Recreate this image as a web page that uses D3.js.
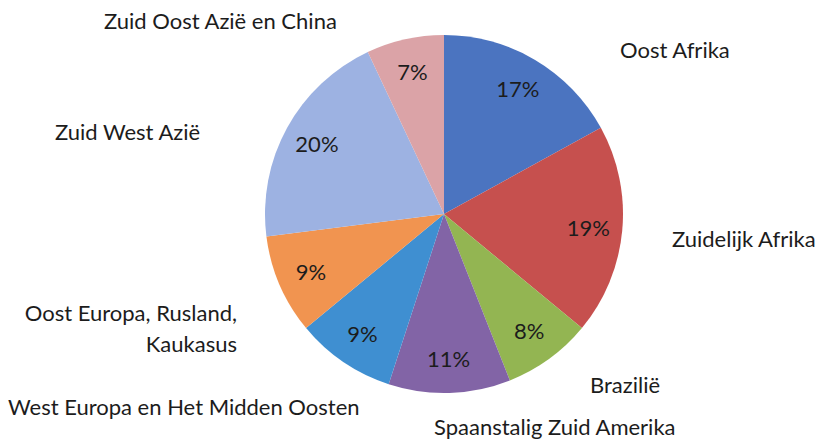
<!DOCTYPE html>
<html>
<head>
<meta charset="utf-8">
<script src="https://cdn.jsdelivr.net/npm/d3@7"></script>
<style>
  html, body { margin: 0; padding: 0; background: #ffffff; }
  svg { display: block; }
  text { font-family: Lato, "Open Sans", sans-serif; fill: #1c1c1c; }
</style>
</head>
<body>
<svg id="chart" width="820" height="442"></svg>
<script>
// ---- data ----
const categories = [
  "Oost Afrika",
  "Zuidelijk Afrika",
  "Brazilië",
  "Spaanstalig Zuid Amerika",
  "West Europa en Het Midden Oosten",
  "Oost Europa, Rusland, Kaukasus",
  "Zuid West Azië",
  "Zuid Oost Azië en China"
];
const values = [17, 19, 8, 11, 9, 9, 20, 7];
const percentLabels = ["17%", "19%", "8%", "11%", "9%", "9%", "20%", "7%"];
const categoryLines = [
  ["Oost Afrika"],
  ["Zuidelijk Afrika"],
  ["Brazilië"],
  ["Spaanstalig Zuid Amerika"],
  ["West Europa en Het Midden Oosten"],
  ["Oost Europa, Rusland,", "Kaukasus"],
  ["Zuid West Azië"],
  ["Zuid Oost Azië en China"]
];
const colors = ["#4b74c0", "#c6504e", "#93b552", "#8264a6", "#3f8fd1", "#f19450", "#9db2e2", "#dba3a7"];

// ---- layout (not data) ----
const W = 820, H = 442;
const cx = 444, cy = 214, R = 179;
const fontSize = 22;
// outside label anchors: x, baseline y, text-anchor
const labelLayout = [
  { x: 620, y: 58,  anchor: "start" },
  { x: 672, y: 247, anchor: "start" },
  { x: 590, y: 393, anchor: "start" },
  { x: 434, y: 435, anchor: "start" },
  { x: 8,   y: 415, anchor: "start" },
  { x: 237, y: 321, anchor: "end", lineGap: 31 },
  { x: 55,  y: 140, anchor: "start" },
  { x: 104, y: 29,  anchor: "start" }
];

const svg = d3.select("#chart");
const g = svg.append("g").attr("transform", `translate(${cx},${cy})`);

const pie = d3.pie().sort(null).value(d => d)(values);
const arc = d3.arc().innerRadius(0).outerRadius(R);
const labelArc = d3.arc().innerRadius(145).outerRadius(145);

g.selectAll("path.slice")
  .data(pie)
  .join("path")
  .attr("class", "slice")
  .attr("d", arc)
  .attr("fill", (d, i) => colors[i]);

g.selectAll("text.pct")
  .data(pie)
  .join("text")
  .attr("class", "pct")
  .attr("transform", d => `translate(${labelArc.centroid(d)})`)
  .attr("text-anchor", "middle")
  .attr("dy", "0.36em")
  .style("font-size", fontSize + "px")
  .text((d, i) => percentLabels[i]);

const outer = svg.append("g");
categoryLines.forEach((lines, i) => {
  const L = labelLayout[i];
  const t = outer.append("text")
    .attr("x", L.x)
    .attr("y", L.y)
    .attr("text-anchor", L.anchor)
    .style("font-size", fontSize + "px");
  lines.forEach((line, j) => {
    t.append("tspan")
      .attr("x", L.x)
      .attr("y", L.y + j * (L.lineGap || 0))
      .text(line);
  });
});
</script>
</body>
</html>
